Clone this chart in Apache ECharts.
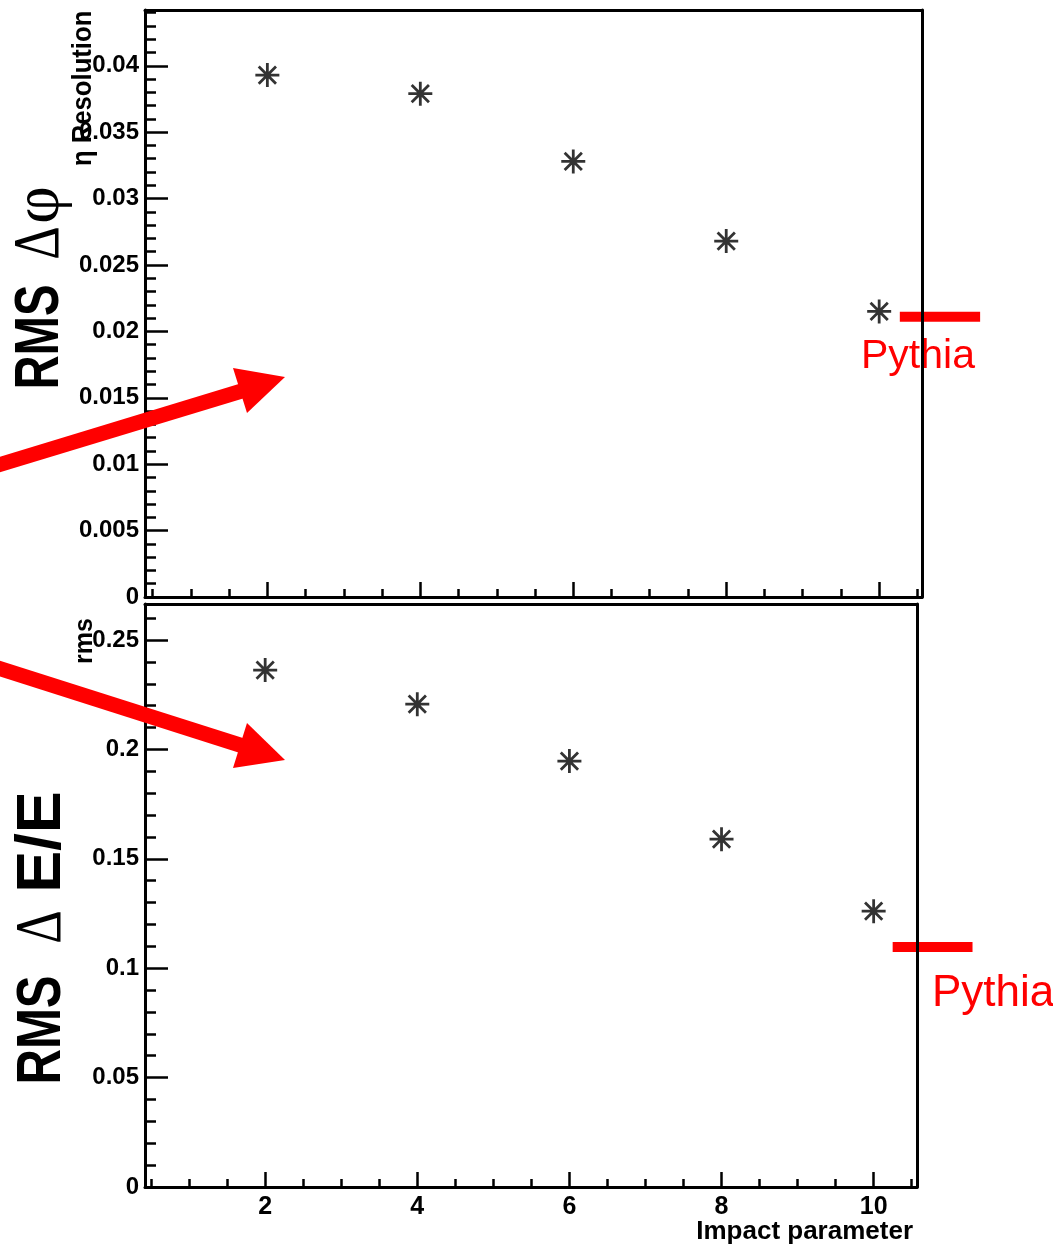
<!DOCTYPE html>
<html><head><meta charset="utf-8">
<script src="https://cdn.jsdelivr.net/npm/echarts@6/dist/echarts.min.js"></script>
<style>html,body{margin:0;padding:0;background:#fff}#c{width:1053px;height:1246px}</style>
</head><body><div id="c"></div>
<script>
// ---- data ----
const impactParams = [2, 4, 6, 8, 10];
const phiRms = [0.0393, 0.0379, 0.0328, 0.0268, 0.0215];
const eRms = [0.2363, 0.2207, 0.1947, 0.1590, 0.1261];
const pythiaPhi = 0.0211;
const pythiaE = 0.1097;
const pythiaXTop = [10.27, 11.32];
const pythiaXBottom = [10.25, 11.30];
// ---- ticks ----
const xMajorTicks = [2, 4, 6, 8, 10];
const xMinorTicks = [0.5, 1, 1.5, 2.5, 3, 3.5, 4.5, 5, 5.5, 6.5, 7, 7.5, 8.5, 9, 9.5, 10.5];
const phiMajorTicks = [0, 0.005, 0.01, 0.015, 0.02, 0.025, 0.03, 0.035, 0.04];
const eMajorTicks = [0, 0.05, 0.1, 0.15, 0.2, 0.25];

function minors(step, max, majors) {
  const out = [];
  for (let k = 1; k * step <= max + 1e-12; k++) {
    const v = Math.round(k * step * 1e6) / 1e6;
    if (!majors.some(m => Math.abs(m - v) < 1e-9)) out.push(v);
  }
  return out;
}
const phiMinorTicks = minors(0.001, 0.0442, phiMajorTicks);
const eMinorTicks = minors(0.01, 0.266, eMajorTicks);

const TOP = {left: 145, top: 10, width: 777, height: 587};
const BOT = {left: 145, top: 604, width: 772, height: 583};
const XR_TOP = [0.4, 10.56], XR_BOT = [0.42, 10.57];
const YR_TOP = [0, 0.0442], YR_BOT = [0, 0.2665];
// overlay grids reaching the page's right edge, same x scale as the panels
const OVW = 1053 - 145;
function extendRange(r, w) { return [r[0], r[0] + OVW * (r[1] - r[0]) / w]; }
const XR_TOP_OV = extendRange(XR_TOP, TOP.width);
const XR_BOT_OV = extendRange(XR_BOT, BOT.width);

const labelFont = {fontSize: 24, fontWeight: 'bold', color: '#000', fontFamily: 'Liberation Sans'};
const fmt = v => String(+(+v).toFixed(4));
const line3 = {show: true, onZero: false, lineStyle: {color: '#000', width: 3}};
const tickStyle = {color: '#000', width: 2.5};

function xMajor(g, r, labels) {
  return {type: 'value', gridIndex: g, min: r[0], max: r[1], position: 'bottom', z: 10,
    axisLine: line3,
    axisTick: {show: true, inside: true, length: 15, customValues: xMajorTicks, lineStyle: tickStyle},
    axisLabel: Object.assign({show: labels, customValues: xMajorTicks, margin: 8, formatter: fmt}, labelFont, {fontSize: 25}),
    splitLine: {show: false}};
}
function xFrame(g, r) {
  return {type: 'value', gridIndex: g, min: r[0], max: r[1], position: 'top', z: 10,
    axisLine: line3, axisTick: {show: false}, axisLabel: {show: false}, splitLine: {show: false}};
}
function xMinor(g, r) {
  return {type: 'value', gridIndex: g, min: r[0], max: r[1], position: 'bottom', z: 10,
    axisLine: {show: false},
    axisTick: {show: true, inside: true, length: 8, customValues: xMinorTicks, lineStyle: tickStyle},
    axisLabel: {show: false}, splitLine: {show: false}};
}
function yMajor(g, r, ticks) {
  return {type: 'value', gridIndex: g, min: r[0], max: r[1], position: 'left', z: 10,
    axisLine: line3,
    axisTick: {show: true, inside: true, length: 23, customValues: ticks, lineStyle: tickStyle},
    axisLabel: Object.assign({customValues: ticks, margin: 6, formatter: fmt}, labelFont),
    splitLine: {show: false}};
}
function yFrame(g, r) {
  return {type: 'value', gridIndex: g, min: r[0], max: r[1], position: 'right', z: 10,
    axisLine: line3, axisTick: {show: false}, axisLabel: {show: false}, splitLine: {show: false}};
}
function yMinor(g, r, ticks) {
  return {type: 'value', gridIndex: g, min: r[0], max: r[1], position: 'left', z: 10,
    axisLine: {show: false},
    axisTick: {show: true, inside: true, length: 11, customValues: ticks, lineStyle: tickStyle},
    axisLabel: {show: false}, splitLine: {show: false}};
}
function hidden(g, r, pos) {
  return {type: 'value', gridIndex: g, min: r[0], max: r[1], position: pos, show: false,
    axisLine: {show: false}, axisTick: {show: false}, axisLabel: {show: false}, splitLine: {show: false}};
}

const STAR = 'path://M0,-1L0,1M-1,0L1,0M-0.72,-0.72L0.72,0.72M-0.72,0.72L0.72,-0.72';
function stars(xi, yi, ys) {
  return {type: 'scatter', xAxisIndex: xi, yAxisIndex: yi, symbol: STAR, symbolSize: 24,
    itemStyle: {color: '#000', borderColor: '#000', borderWidth: 2.8},
    data: impactParams.map((x, i) => [x, ys[i]]), z: 5, silent: true};
}
function pythiaLine(xi, yi, xs, y) {
  return {type: 'line', xAxisIndex: xi, yAxisIndex: yi, clip: false, symbol: 'none', z: 3, silent: true,
    lineStyle: {color: '#ff0000', width: 10, cap: 'butt'},
    data: xs.map(x => [x, y])};
}

const RED = '#ff0000';
function arrow(x0, y0, sx, sy, tip, c1, c2) {
  return [
    {type: 'line', z: 100, shape: {x1: x0, y1: y0, x2: sx, y2: sy}, style: {stroke: RED, lineWidth: 15}},
    {type: 'polygon', z: 100, shape: {points: [tip, c1, c2]}, style: {fill: RED}}
  ];
}
function vtext(x, y, text, font, sx, align) {
  return {type: 'text', x: x, y: y, rotation: Math.PI / 2, scaleX: sx, z: 50,
    style: {text: text, font: font, fill: '#000', align: align || 'center', verticalAlign: 'middle'}};
}
const SANS_B = 'bold 63px "Liberation Sans"';
const SERIF = '65px "Liberation Serif"';

const chart = echarts.init(document.getElementById('c'), null, {renderer: 'canvas'});
chart.setOption({
  backgroundColor: '#ffffff',
  animation: false,
  grid: [
    Object.assign({show: false}, TOP),
    Object.assign({show: false}, TOP),
    Object.assign({show: false}, BOT),
    Object.assign({show: false}, BOT),
    {show: false, left: TOP.left, top: TOP.top, width: OVW, height: TOP.height},
    {show: false, left: BOT.left, top: BOT.top, width: OVW, height: BOT.height}
  ],
  xAxis: [
    xMajor(0, XR_TOP, false), xFrame(0, XR_TOP), xMinor(1, XR_TOP),
    xMajor(2, XR_BOT, true), xFrame(2, XR_BOT), xMinor(3, XR_BOT),
    hidden(4, XR_TOP_OV, 'bottom'), hidden(5, XR_BOT_OV, 'bottom')
  ],
  yAxis: [
    yMajor(0, YR_TOP, phiMajorTicks), yFrame(0, YR_TOP), yMinor(1, YR_TOP, phiMinorTicks),
    yMajor(2, YR_BOT, eMajorTicks), yFrame(2, YR_BOT), yMinor(3, YR_BOT, eMinorTicks),
    hidden(4, YR_TOP, 'left'), hidden(5, YR_BOT, 'left')
  ],
  series: [
    stars(0, 0, phiRms),
    pythiaLine(6, 6, pythiaXTop, pythiaPhi),
    stars(3, 3, eRms),
    pythiaLine(7, 7, pythiaXBottom, pythiaE)
  ],
  graphic: [
    {type: 'text', x: 861, y: 357, z: 1, style: {text: 'Pythia', font: '41px "Liberation Sans"', fill: RED, align: 'left', verticalAlign: 'middle'}},
    {type: 'text', x: 932, y: 994, z: 1, style: {text: 'Pythia', font: '44px "Liberation Sans"', fill: RED, align: 'left', verticalAlign: 'middle'}},
    vtext(41, 337, 'RMS', SANS_B, 0.75),
    vtext(41, 243, 'Δ', SERIF, 0.8),
    vtext(41, 205, 'φ', SERIF, 1.0),
    vtext(43, 1030, 'RMS', SANS_B, 0.78),
    vtext(43, 927, 'Δ', SERIF, 0.8),
    vtext(43, 842, 'E/E', SANS_B, 1.0),
    vtext(84, 166, 'η Resolution', 'bold 27px "Liberation Sans"', 0.95, 'left'),
    vtext(85, 664, 'rms', 'bold 25px "Liberation Sans"', 1.0, 'left'),
    {type: 'text', x: 913, y: 1232, z: 50, style: {text: 'Impact parameter', font: 'bold 26px "Liberation Sans"', fill: '#000', align: 'right', verticalAlign: 'middle'}}
  ].concat(
    arrow(-5, 466, 245, 390, [285, 377], [233, 368], [247, 413]),
    arrow(-5, 667, 243, 746, [285, 760], [247, 723], [233, 768])
  )
});
</script>
</body></html>
